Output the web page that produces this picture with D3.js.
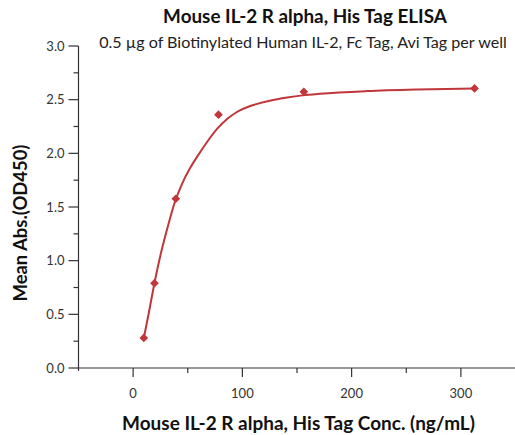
<!DOCTYPE html>
<html><head><meta charset="utf-8">
<script src="https://cdn.jsdelivr.net/npm/d3@7"></script>
<style>body{margin:0;background:#fff;} svg{display:block;}</style>
</head><body>
<svg id="c" width="515" height="435"></svg>
<script>
const concentrations = [9.77, 19.53, 39.06, 78.13, 156.25, 312.5];
const absorbance = [0.28, 0.79, 1.577, 2.36, 2.573, 2.605];
const fitX = [9.8, 14.3, 19.5, 25, 31, 38, 45, 52, 60, 68, 77, 86, 95, 110, 125, 141, 155, 171, 214, 260, 312.5];
const fitY = [0.28, 0.51, 0.79, 1.05, 1.29, 1.54, 1.72, 1.86, 1.99, 2.11, 2.23, 2.32, 2.385, 2.45, 2.49, 2.52, 2.54, 2.555, 2.58, 2.595, 2.605];
const xTicks = [0, 100, 200, 300];
const xMinor = [50, 150, 250];
const yTicks = [0, 0.5, 1.0, 1.5, 2.0, 2.5, 3.0];
const yMinor = [0.25, 0.75, 1.25, 1.75, 2.25, 2.75];
const title = "Mouse IL-2 R alpha, His Tag ELISA";
const subtitle = "0.5 µg of Biotinylated Human IL-2, Fc Tag, Avi Tag per well";
const xLabel = "Mouse IL-2 R alpha, His Tag Conc. (ng/mL)";
const yLabel = "Mean Abs.(OD450)";

const svg = d3.select("#c");
const FONT = "Lato, 'Open Sans', sans-serif";
const axisCol = "#333";
const red = "#c0363a";

const x = d3.scaleLinear().domain([-50, 350]).range([78.5, 515.5]);
const y = d3.scaleLinear().domain([0, 3]).range([368, 46]);

// x axis
const gx = svg.append("g").attr("transform", `translate(0,${y(0)})`);
gx.append("line").attr("x1", x(-50)).attr("x2", 515).attr("stroke", axisCol).attr("stroke-width", 1.2);
gx.selectAll("line.maj").data(xTicks).join("line").attr("class","maj")
  .attr("x1", d => x(d)).attr("x2", d => x(d)).attr("y1", 0).attr("y2", 9)
  .attr("stroke", axisCol).attr("stroke-width", 1.2);
gx.selectAll("line.min").data(xMinor).join("line").attr("class","min")
  .attr("x1", d => x(d)).attr("x2", d => x(d)).attr("y1", 0).attr("y2", 5)
  .attr("stroke", axisCol).attr("stroke-width", 1.2);
gx.selectAll("text").data(xTicks).join("text")
  .attr("x", d => x(d)).attr("y", 30).attr("text-anchor", "middle")
  .attr("font-family", FONT).attr("font-size", 13).attr("fill", "#333")
  .text(d => d);

// y axis
const gy = svg.append("g").attr("transform", `translate(${x(-50)},0)`);
gy.append("line").attr("y1", y(3)).attr("y2", y(0) + 3).attr("stroke", axisCol).attr("stroke-width", 1.2);
gy.selectAll("line.maj").data(yTicks).join("line").attr("class","maj")
  .attr("y1", d => y(d)).attr("y2", d => y(d)).attr("x1", 0).attr("x2", -10)
  .attr("stroke", axisCol).attr("stroke-width", 1.2);
gy.selectAll("line.min").data(yMinor).join("line").attr("class","min")
  .attr("y1", d => y(d)).attr("y2", d => y(d)).attr("x1", 0).attr("x2", -5)
  .attr("stroke", axisCol).attr("stroke-width", 1.2);
gy.selectAll("text").data(yTicks).join("text")
  .attr("x", -14).attr("y", d => y(d)).attr("dy", "0.35em").attr("text-anchor", "end")
  .attr("font-family", FONT).attr("font-size", 13).attr("fill", "#333")
  .text(d => d.toFixed(1));

// fit curve
const fit = fitX.map((d, i) => [d, fitY[i]]);
svg.append("path").datum(fit)
  .attr("d", d3.line().x(d => x(d[0])).y(d => y(d[1])).curve(d3.curveMonotoneX))
  .attr("fill", "none").attr("stroke", red).attr("stroke-width", 2);

// points
const sym = d3.symbol().type(d3.symbolSquare).size(38);
svg.selectAll("path.pt").data(concentrations).join("path").attr("class", "pt")
  .attr("d", sym)
  .attr("transform", (d, i) => `translate(${x(d)},${y(absorbance[i])}) rotate(45)`)
  .attr("fill", red);

function fitText(sel, w) {
  const n = sel.node();
  const cur = n.getComputedTextLength();
  const fs = parseFloat(sel.attr("font-size"));
  sel.attr("font-size", fs * w / cur);
}

const t1 = svg.append("text").attr("x", 305).attr("y", 23).attr("text-anchor", "middle")
  .attr("font-family", FONT).attr("font-weight", "bold").attr("font-size", 16).attr("fill", "#111").text(title);
fitText(t1, 284);
const t2 = svg.append("text").attr("x", 303).attr("y", 48).attr("text-anchor", "middle")
  .attr("font-family", FONT).attr("font-size", 13).attr("fill", "#222").text(subtitle);
fitText(t2, 408);
const t3 = svg.append("text").attr("x", 298.5).attr("y", 430).attr("text-anchor", "middle")
  .attr("font-family", FONT).attr("font-weight", "bold").attr("font-size", 15).attr("fill", "#111").text(xLabel);
fitText(t3, 353);
const t4 = svg.append("text").attr("transform", "translate(27,223) rotate(-90)").attr("text-anchor", "middle")
  .attr("font-family", FONT).attr("font-weight", "bold").attr("font-size", 15).attr("fill", "#111").text(yLabel);
fitText(t4, 157);
</script>
</body></html>
